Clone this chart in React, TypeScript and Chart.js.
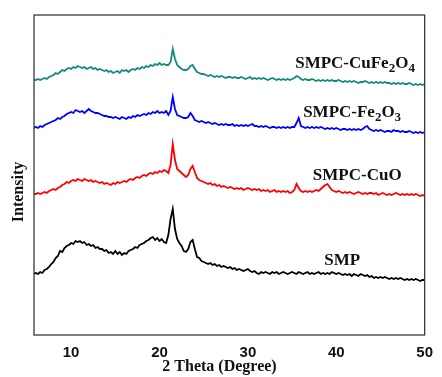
import React, { useEffect, useRef } from "react";
import { Chart, registerables } from "chart.js";

Chart.register(...registerables);

// 2θ sampling (degrees), 0.25° steps from 5.75 to 50
const THETA = [
  5.75,
  6, 6.25, 6.5, 6.75, 7, 7.25, 7.5, 7.75, 8, 8.25, 8.5, 8.75, 9, 9.25, 9.5, 9.75,
  10, 10.25, 10.5, 10.75, 11, 11.25, 11.5, 11.75, 12, 12.25, 12.5, 12.75, 13, 13.25, 13.5, 13.75,
  14, 14.25, 14.5, 14.75, 15, 15.25, 15.5, 15.75, 16, 16.25, 16.5, 16.75, 17, 17.25, 17.5, 17.75,
  18, 18.25, 18.5, 18.75, 19, 19.25, 19.5, 19.75, 20, 20.25, 20.5, 20.75, 21, 21.25, 21.5, 21.75,
  22, 22.25, 22.5, 22.75, 23, 23.25, 23.5, 23.75, 24, 24.25, 24.5, 24.75, 25, 25.25, 25.5, 25.75,
  26, 26.25, 26.5, 26.75, 27, 27.25, 27.5, 27.75, 28, 28.25, 28.5, 28.75, 29, 29.25, 29.5, 29.75,
  30, 30.25, 30.5, 30.75, 31, 31.25, 31.5, 31.75, 32, 32.25, 32.5, 32.75, 33, 33.25, 33.5, 33.75,
  34, 34.25, 34.5, 34.75, 35, 35.25, 35.5, 35.75, 36, 36.25, 36.5, 36.75, 37, 37.25, 37.5, 37.75,
  38, 38.25, 38.5, 38.75, 39, 39.25, 39.5, 39.75, 40, 40.25, 40.5, 40.75, 41, 41.25, 41.5, 41.75,
  42, 42.25, 42.5, 42.75, 43, 43.25, 43.5, 43.75, 44, 44.25, 44.5, 44.75, 45, 45.25, 45.5, 45.75,
  46, 46.25, 46.5, 46.75, 47, 47.25, 47.5, 47.75, 48, 48.25, 48.5, 48.75, 49, 49.25, 49.5, 49.75,
  50,
];

// Stacked intensities (arbitrary units, each pattern offset vertically)
const SMP = [
  61,
  62, 61, 63, 62, 65, 66, 68, 71, 73, 77, 79, 84, 83, 87, 89, 90,
  92, 91, 94, 93, 94, 92, 93, 90, 91, 89, 90, 87, 88, 86, 86, 84,
  85, 82, 83, 81, 84, 81, 83, 80, 82, 81, 84, 85, 86, 88, 87, 90,
  91, 92, 94, 95, 97, 98, 95, 97, 94, 96, 93, 92, 100, 116, 126, 106,
  96, 92, 89, 84, 83, 86, 93, 95, 86, 78, 77, 74, 73, 72, 71, 72,
  70, 71, 69, 70, 68, 69, 68, 67, 68, 66, 67, 65, 66, 65, 64, 65,
  66, 64, 63, 64, 62, 61, 63, 62, 63, 62, 61, 63, 62, 63, 61, 62,
  63, 62, 61, 62, 63, 62, 61, 63, 62, 61, 62, 63, 61, 62, 61, 62,
  63, 61, 62, 61, 62, 61, 63, 62, 61, 62, 61, 60, 61, 60, 61, 59,
  61, 60, 59, 61, 60, 59, 60, 58, 59, 57, 58, 57, 58, 57, 58, 57,
  56, 57, 56, 57, 56, 57, 56, 55, 56, 55, 56, 55, 56, 55, 54, 55,
  55,
];

const SMPC_CUO = [
  141,
  141, 142, 141, 142, 143, 142, 144, 145, 146, 145, 147, 148, 150, 151, 153, 152,
  154, 155, 154, 156, 155, 154, 156, 155, 154, 155, 153, 154, 153, 152, 153, 151,
  152, 151, 150, 152, 151, 153, 152, 153, 154, 153, 155, 156, 155, 157, 158, 157,
  159, 160, 159, 161, 162, 161, 163, 162, 164, 163, 165, 164, 162, 170, 191, 175,
  166, 164, 162, 160, 158, 160, 166, 169, 163, 157, 155, 154, 153, 152, 151, 152,
  150, 151, 149, 150, 148, 149, 148, 147, 148, 147, 146, 147, 146, 147, 145, 146,
  147, 146, 145, 146, 145, 146, 144, 145, 144, 145, 143, 144, 145, 143, 144, 143,
  144, 143, 144, 142, 143, 145, 151, 147, 144, 143, 144, 143, 144, 143, 144, 145,
  144, 146, 148, 150, 151, 148, 145, 144, 143, 144, 143, 142, 143, 142, 143, 142,
  141, 142, 143, 142, 141, 142, 141, 142, 142, 141, 142, 140, 141, 142, 141, 140,
  141, 140, 141, 142, 141, 140, 141, 140, 141, 140, 141, 140, 141, 140, 139, 140,
  139,
];

const SMPC_FE2O3 = [
  207,
  208, 207, 209, 208, 210, 211, 212, 213, 214, 215, 217, 216, 218, 219, 221, 222,
  223, 222, 225, 224, 223, 224, 222, 224, 226, 224, 223, 222, 222, 221, 220, 219,
  219, 218, 218, 217, 218, 217, 216, 218, 217, 216, 218, 217, 219, 218, 220, 219,
  220, 221, 220, 222, 221, 223, 222, 224, 222, 223, 222, 224, 220, 224, 238, 226,
  220, 219, 218, 217, 217, 218, 222, 219, 215, 214, 213, 214, 213, 212, 213, 212,
  211, 212, 211, 210, 211, 210, 211, 210, 210, 211, 209, 210, 209, 210, 209, 210,
  209, 210, 211, 209, 209, 208, 209, 208, 209, 208, 207, 208, 208, 207, 208, 207,
  208, 207, 208, 207, 208, 208, 212, 217, 209, 208, 207, 208, 207, 208, 207, 208,
  207, 208, 207, 206, 207, 206, 207, 206, 207, 206, 205, 206, 206, 205, 206, 205,
  206, 205, 206, 205, 206, 208, 209, 206, 205, 204, 205, 204, 205, 204, 203, 204,
  204, 203, 205, 204, 204, 203, 204, 203, 203, 204, 203, 202, 203, 202, 203, 202,
  203,
];

const SMPC_CUFE2O4 = [
  255,
  255, 256, 255, 256, 257, 256, 258, 259, 260, 262, 261, 263, 265, 264, 266, 267,
  266, 268, 267, 269, 268, 267, 268, 266, 267, 268, 266, 267, 265, 266, 265, 264,
  265, 263, 264, 262, 263, 264, 262, 265, 264, 265, 263, 265, 266, 265, 267, 266,
  268, 267, 269, 268, 270, 269, 271, 270, 272, 270, 271, 270, 270, 273, 286, 276,
  270, 268, 266, 265, 265, 266, 269, 270, 266, 263, 262, 261, 261, 260, 259, 260,
  259, 258, 259, 258, 259, 258, 257, 258, 258, 257, 258, 257, 257, 258, 257, 256,
  257, 258, 256, 257, 256, 257, 256, 257, 256, 255, 256, 257, 256, 255, 256, 255,
  256, 255, 256, 255, 256, 257, 259, 258, 256, 255, 256, 255, 255, 256, 255, 254,
  255, 254, 255, 254, 255, 254, 255, 254, 254, 255, 254, 253, 254, 253, 254, 253,
  254, 253, 252, 253, 253, 254, 253, 252, 253, 252, 253, 252, 253, 252, 253, 252,
  252, 251, 252, 251, 252, 251, 252, 251, 251, 252, 251, 250, 251, 250, 251, 250,
  251,
];

const X_TICKS = [10, 20, 30, 40, 50];

const SERIES = [
  { name: "SMP", values: SMP, color: "#000000" },
  { name: "SMPC-CuO", values: SMPC_CUO, color: "#ff0000" },
  { name: "SMPC-Fe2O3", values: SMPC_FE2O3, color: "#0000ff" },
  { name: "SMPC-CuFe2O4", values: SMPC_CUFE2O4, color: "#138a7e" },
];

// Curve labels: text runs (sub = subscript) anchored in data units
const CURVE_LABELS = [
  { runs: [["SMPC-CuFe", false], ["2", true], ["O", false], ["4", true]], theta: 35.35, at: 267 },
  { runs: [["SMPC-Fe", false], ["2", true], ["O", false], ["3", true]], theta: 36.25, at: 218 },
  { runs: [["SMPC-CuO", false]], theta: 37.35, at: 155 },
  { runs: [["SMP", false]], theta: 38.65, at: 70 },
];

const SERIF = '"Liberation Serif", "Times New Roman", serif';

const decorPlugin = {
  id: "xrdDecor",
  afterDraw(chart: any) {
    const { ctx, chartArea, scales } = chart;
    const x = scales.x;
    const y = scales.y;
    ctx.save();
    // frame
    ctx.strokeStyle = "#3a3a3a";
    ctx.lineWidth = 1.3;
    ctx.strokeRect(chartArea.left, chartArea.top, chartArea.right - chartArea.left, chartArea.bottom - chartArea.top);

    // curve labels
    ctx.fillStyle = "#111";
    ctx.textBaseline = "alphabetic";
    ctx.textAlign = "left";
    for (const lab of CURVE_LABELS) {
      let px = x.getPixelForValue(lab.theta);
      const py = y.getPixelForValue(lab.at);
      for (const [txt, sub] of lab.runs as [string, boolean][]) {
        ctx.font = sub ? `bold 13px ${SERIF}` : `bold 17px ${SERIF}`;
        ctx.fillText(txt, px, sub ? py + 4 : py);
        px += ctx.measureText(txt).width;
      }
    }

    // axis titles
    ctx.font = `bold 16px ${SERIF}`;
    ctx.textAlign = "center";
    ctx.textBaseline = "middle";
    ctx.fillText("2 Theta (Degree)", 219.5, 367);
    ctx.translate(19, 192);
    ctx.rotate(-Math.PI / 2);
    ctx.fillText("Intensity", 0, 0);
    ctx.restore();
  },
};

export default function App() {
  const ref = useRef<HTMLCanvasElement | null>(null);

  useEffect(() => {
    if (!ref.current) return;
    const chart = new Chart(ref.current, {
      type: "line",
      data: {
        datasets: SERIES.map((s) => ({
          label: s.name,
          data: THETA.map((t, i) => ({ x: t, y: s.values[i] })),
          borderColor: s.color,
          backgroundColor: s.color,
          borderWidth: 1.8,
          pointRadius: 0,
          tension: 0,
          fill: false,
        })),
      },
      options: {
        animation: false,
        responsive: false,
        events: [],
        layout: { padding: { left: 34, top: 15, right: 8.5, bottom: 0 } },
        plugins: { legend: { display: false }, tooltip: { enabled: false }, title: { display: false } },
        scales: {
          x: {
            type: "linear",
            min: 5.8,
            max: 50,
            grid: { display: false, drawTicks: false },
            border: { display: false },
            afterBuildTicks: (scale: any) => {
              scale.ticks = X_TICKS.map((v) => ({ value: v }));
            },
            afterFit: (scale: any) => {
              scale.height = 42;
            },
            ticks: {
              padding: 9,
              color: "#111",
              font: { family: '"Liberation Sans", Arial, sans-serif', size: 15, weight: "bold" },
              maxRotation: 0,
            },
          },
          y: {
            display: false,
            min: 0,
            max: 320,
          },
        },
      },
      plugins: [decorPlugin],
    });
    return () => chart.destroy();
  }, []);

  return (
    <div style={{ position: "absolute", left: 0, top: 0, width: 442, height: 377, background: "#fff" }}>
      <canvas ref={ref} width={442} height={377} />
    </div>
  );
}
